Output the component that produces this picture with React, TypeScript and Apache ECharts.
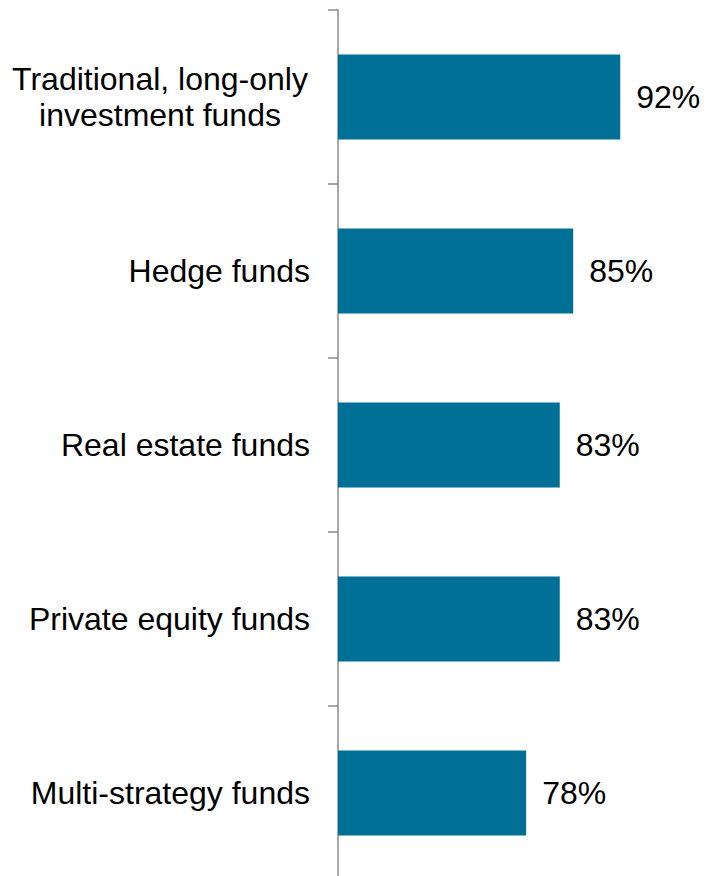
import React, { useEffect, useRef } from "react";
import * as echarts from "echarts";

const categories = [
  "Traditional, long-only\ninvestment funds",
  "Hedge funds",
  "Real estate funds",
  "Private equity funds",
  "Multi-strategy funds",
];
const values = [92, 85, 83, 83, 78];

export default function App() {
  const ref = useRef<HTMLDivElement>(null);
  useEffect(() => {
    if (!ref.current) return;
    const chart = echarts.init(ref.current, null, { renderer: "svg" });
    const font = "'Liberation Sans', Arial, sans-serif";
    chart.setOption({
      animation: false,
      grid: { left: 338, right: 32, top: 10, bottom: 0, containLabel: false },
      xAxis: {
        type: "value",
        min: 50,
        max: 100,
        show: false,
      },
      yAxis: {
        type: "category",
        inverse: true,
        data: categories,
        axisLine: { show: true, lineStyle: { color: "#8a8a8a", width: 1.5 } },
        axisTick: { show: true, length: 10, lineStyle: { color: "#8a8a8a", width: 1.5 } },
        axisLabel: {
          margin: 28,
          color: "#000",
          fontFamily: font,
          fontSize: 32,
          lineHeight: 36,
          formatter: (v: string) =>
            v.indexOf("\n") >= 0 ? "{c|" + v.split("\n").join("}\n{c|") + "}" : v,
          rich: {
            c: {
              width: 300,
              align: "center",
              fontFamily: font,
              fontSize: 32,
              lineHeight: 36,
              color: "#000",
            },
          },
        },
        splitLine: { show: false },
      },
      series: [
        {
          type: "bar",
          data: values,
          barWidth: 85,
          itemStyle: { color: "#007096" },
          label: {
            show: true,
            position: "right",
            distance: 16,
            formatter: "{c}%",
            color: "#000",
            fontFamily: font,
            fontSize: 32,
          },
        },
      ],
    });
    return () => chart.dispose();
  }, []);
  return (
    <div
      ref={ref}
      style={{ position: "fixed", left: 0, top: 0, width: 706, height: 880, background: "#fff" }}
    />
  );
}
